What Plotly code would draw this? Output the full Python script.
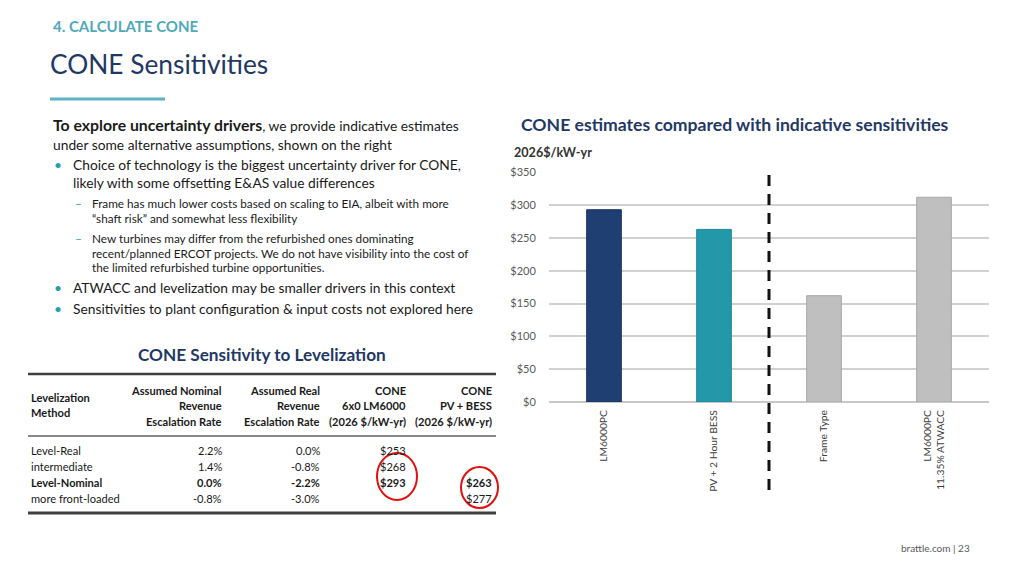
import plotly.graph_objects as go

W, H = 1024, 576

# ---- Chart data ----
categories = ["LM6000PC", "PV + 2 Hour BESS", "Frame Type", "LM6000PC<br>11.35% ATWACC"]
cone_values = [293, 263, 162, 312]
bar_colors = ["#1f3f73", "#2398a8", "#bfbfbf", "#bfbfbf"]
bar_edge = ["#1a3562", "#1e8696", "#a8a8a8", "#a8a8a8"]
y_ticks = [0, 50, 100, 150, 200, 250, 300, 350]

# ---- Table data ----
table_methods = ["Level-Real", "intermediate", "Level-Nominal", "more front-loaded"]
nominal_rates = ["2.2%", "1.4%", "0.0%", "-0.8%"]
real_rates = ["0.0%", "-0.8%", "-2.2%", "-3.0%"]
cone_lm6000 = ["$253", "$268", "$293", ""]
cone_pvbess = ["", "", "$263", "$277"]
bold_rows = [False, False, True, False]

FONT = "Lato"
NAVY = "#1f3864"
TEAL = "#4fa9bb"
TXT = "#1a1a1a"


def px(x):
    return x / W


def py(y):
    return 1 - y / H


fig = go.Figure()
fig.add_trace(go.Bar(
    x=categories, y=cone_values, width=0.315,
    marker=dict(color=bar_colors, line=dict(color=bar_edge, width=1)),
    hoverinfo="x+y", showlegend=False,
))

annotations = []
shapes = []


def txt(x, y, s, size=13, color=TXT, bold=False, xanchor="left", family=FONT):
    if bold:
        s = "<b>" + s + "</b>"
    annotations.append(dict(
        x=px(x), y=py(y), xref="paper", yref="paper", text=s, showarrow=False,
        xanchor=xanchor, yanchor="middle", align=xanchor if xanchor != "center" else "center",
        font=dict(family=family, size=size, color=color),
    ))


# Header
txt(51, 26, "4. CALCULATE CONE", size=15, color=TEAL, bold=True)
txt(48, 64, "CONE Sensitivities", size=26.3, color=NAVY)
shapes.append(dict(type="line", xref="paper", yref="paper", x0=px(50), x1=px(165),
                   y0=py(99), y1=py(99), line=dict(color="#5bb3c3", width=3)))

# Left text block
MAIN = 13.8
SUB = 11.75
txt(51, 124.5, "<span style='font-size:15.8px'><b>To explore uncertainty drivers</b></span>, "
               "we provide indicative estimates", size=MAIN)
txt(51, 144, "under some alternative assumptions, shown on the right", size=MAIN)
bullets = [
    (164.5, "Choice of technology is the biggest uncertainty driver for CONE,", True),
    (182.5, "likely with some offsetting E&AS value differences", False),
    (287.5, "ATWACC and levelization may be smaller drivers in this context", True),
    (308.5, "Sensitivities to plant configuration & input costs not explored here", True),
]
for y, s, dot in bullets:
    if dot:
        txt(52, y, "•", size=MAIN, color="#2a9db0")
    txt(71, y, s, size=MAIN)
subs = [
    (203.5, "Frame has much lower costs based on scaling to EIA, albeit with more", True),
    (218.5, "“shaft risk” and somewhat less flexibility", False),
    (238, "New turbines may differ from the refurbished ones dominating", True),
    (253, "recent/planned ERCOT projects. We do not have visibility into the cost of", False),
    (267.5, "the limited refurbished turbine opportunities.", False),
]
for y, s, dash in subs:
    if dash:
        txt(73, y, "–", size=SUB, color="#2a9db0")
    txt(90, y, s, size=SUB)

# Table
txt(262, 354, "CONE Sensitivity to Levelization", size=17.2, color=NAVY, bold=True, xanchor="center")
shapes.append(dict(type="line", xref="paper", yref="paper", x0=px(28), x1=px(496),
                   y0=py(374), y1=py(374), line=dict(color="#404040", width=2.5)))
shapes.append(dict(type="line", xref="paper", yref="paper", x0=px(28), x1=px(496),
                   y0=py(436), y1=py(436), line=dict(color="#606060", width=1.5)))
shapes.append(dict(type="line", xref="paper", yref="paper", x0=px(28), x1=px(496),
                   y0=py(513), y1=py(513), line=dict(color="#404040", width=3)))

HDR = 11.1
txt(29, 397.5, "Levelization", size=HDR, bold=True)
txt(29, 412.5, "Method", size=HDR, bold=True)
col_right = [224, 322, 408, 494]
headers = [
    ["Assumed Nominal", "Revenue", "Escalation Rate"],
    ["Assumed Real", "Revenue", "Escalation Rate"],
    ["CONE", "6x0 LM6000", "(2026 $/kW-yr)"],
    ["CONE", "PV + BESS", "(2026 $/kW-yr)"],
]
hdr_y = [390, 405.5, 421]
for xr, lines in zip(col_right, headers):
    for yy, s in zip(hdr_y, lines):
        txt(xr, yy, s, size=HDR, bold=True, xanchor="right")

row_y = [450, 466.5, 482.5, 498.5]
for i, yy in enumerate(row_y):
    b = bold_rows[i]
    txt(29, yy, table_methods[i], size=HDR, bold=b)
    cells = [nominal_rates[i], real_rates[i], cone_lm6000[i], cone_pvbess[i]]
    for xr, s in zip(col_right, cells):
        if s:
            txt(xr, yy, s, size=HDR, bold=b, xanchor="right")

# Red circles
shapes.append(dict(type="circle", xref="paper", yref="paper", x0=px(377), x1=px(417),
                   y0=py(453), y1=py(500), line=dict(color="#e01010", width=2)))
shapes.append(dict(type="circle", xref="paper", yref="paper", x0=px(461), x1=px(498),
                   y0=py(467), y1=py(508), line=dict(color="#e01010", width=2)))

# Chart titles
txt(735, 125, "CONE estimates compared with indicative sensitivities", size=17.6, color=NAVY,
    bold=True, xanchor="center")
txt(512, 152.5, "2026$/kW-yr", size=12.6, color="#333333", bold=True)

# Dashed separator between estimates and sensitivities
shapes.append(dict(type="line", xref="x", yref="paper", x0=1.5, x1=1.5,
                   y0=py(490), y1=py(172), line=dict(color="#111111", width=3, dash="11px,8px")))

# Footer
txt(972, 548, "brattle.com | 23", size=10, color="#595959", xanchor="right")

y_bottom_px, y_top_px = 402, 172.3
y_max = 351
y_top_dom = y_bottom_px - (y_bottom_px - y_top_px) * y_max / 350
fig.update_layout(
    width=W, height=H,
    margin=dict(l=0, r=0, t=0, b=0, pad=0, autoexpand=False),
    paper_bgcolor="white", plot_bgcolor="white",
    font=dict(family=FONT),
    xaxis=dict(domain=[px(549), px(989)], showgrid=False, showline=False, zeroline=False,
               tickangle=-90, tickfont=dict(family=FONT, size=10.3, color="#404040"),
               ticks="", ticklabelstandoff=5, fixedrange=True, automargin=False),
    yaxis=dict(domain=[py(y_bottom_px), py(y_top_dom)], range=[0, y_max],
               tickvals=y_ticks, ticktext=["$" + str(v) for v in y_ticks],
               showgrid=True, gridcolor="#d0d0d0", gridwidth=2,
               zeroline=True, zerolinecolor="#c8c8c8", zerolinewidth=2,
               tickfont=dict(family=FONT, size=11, color="#595959"),
               ticks="outside", ticklen=10, tickcolor="rgba(0,0,0,0)", fixedrange=True,
               automargin=False),
    annotations=annotations,
    shapes=shapes,
    bargap=0.685,
)

fig.write_html(
    "out.html",
    config={"displayModeBar": False},
    post_script="document.body.style.margin='0';document.body.style.overflow='hidden';",
)
